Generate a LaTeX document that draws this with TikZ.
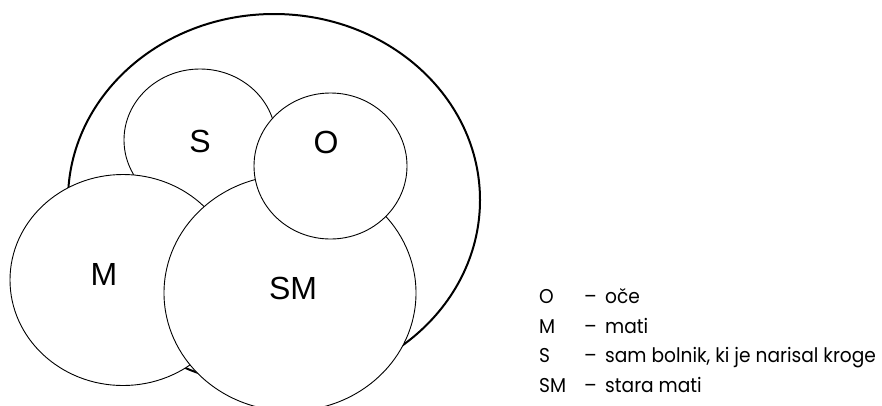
\documentclass[tikz,border=0pt]{standalone}
\usepackage{fontspec}
\setmainfont{Liberation Sans}
\newfontfamily\legendfont[FakeStretch=0.93]{Poppins}
\usetikzlibrary{shapes.geometric}
\begin{document}
\begin{tikzpicture}[x=1pt,y=-1pt,
  circ/.style={ellipse, draw, fill=white, line width=0.9pt, inner sep=0pt},
  lbl/.style={font=\fontsize{32}{38}\selectfont, inner sep=0pt},
  legk/.style={anchor=base west, font=\legendfont\fontsize{20}{24}\selectfont, inner sep=0pt}]
  \useasboundingbox (0,0) rectangle (882,405);
  \clip (0,0) rectangle (882,405);
  % family circles, back to front
  \node[circ, line width=2pt, minimum width=412pt, minimum height=372pt] (fam) at (274,200) {};
  \node[circ, minimum width=152pt, minimum height=142pt] (S) at (200,140) {};
  \node[circ, minimum width=226pt, minimum height=211pt] (M) at (123,280) {};
  \node[circ, minimum width=252pt, minimum height=236pt] (SM) at (290,293) {};
  \node[circ, minimum width=153pt, minimum height=146pt] (O) at (330.5,166) {};
  % circle labels
  \node[lbl] (tS) at (200,141) {S};
  \node[lbl] (tO) at (326,142) {O};
  \node[lbl] (tM) at (104,274) {M};
  \node[lbl] (tSM) at (293,288) {SM};
  % legend
  \node[legk] (k1) at (539,303) {O};
  \node[legk] (k2) at (539,333) {M};
  \node[legk] (k3) at (539,362) {S};
  \node[legk] (k4) at (539,392) {SM};
  \node[legk] (d1) at (584,303) {–};
  \node[legk] (d2) at (584,333) {–};
  \node[legk] (d3) at (584,362) {–};
  \node[legk] (d4) at (584,392) {–};
  \node[legk] (v1) at (605,303) {oče};
  \node[legk] (v2) at (605,333) {mati};
  \node[legk] (v3) at (605,362) {sam bolnik, ki je narisal kroge};
  \node[legk] (v4) at (605,392) {stara mati};
\end{tikzpicture}
\end{document}
